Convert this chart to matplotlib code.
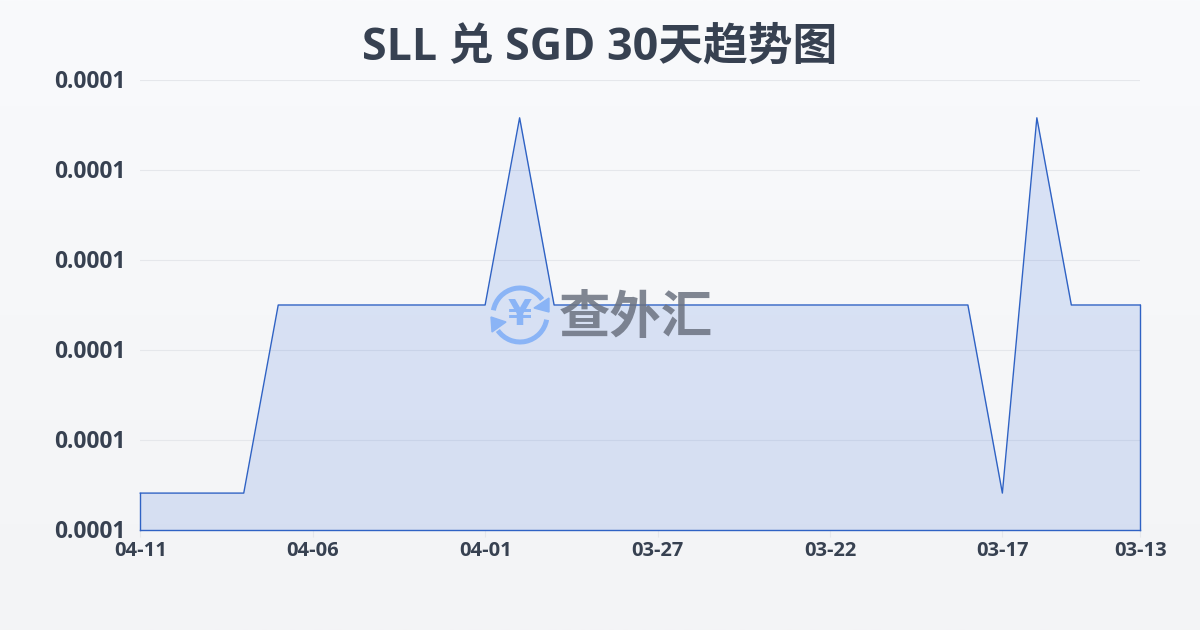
import numpy as np
import matplotlib
matplotlib.use('Agg')
import matplotlib.pyplot as plt
from matplotlib.patches import Arc, Polygon
from matplotlib.transforms import ScaledTranslation

plt.rcParams['font.family'] = ['Open Sans', 'Noto Sans CJK SC', 'DejaVu Sans']

dates = ['04-11', '04-10', '04-09', '04-08', '04-07', '04-06', '04-05', '04-04', '04-03', '04-02',
         '04-01', '03-31', '03-30', '03-29', '03-28', '03-27', '03-26', '03-25', '03-24', '03-23',
         '03-22', '03-21', '03-20', '03-19', '03-18', '03-17', '03-16', '03-15', '03-14', '03-13']
low = 0.0000641
mid = 0.0000850
high = 0.0001058
rates = [low, low, low, low, mid, mid, mid, mid, mid, mid,
         mid, high, mid, mid, mid, mid, mid, mid, mid, mid,
         mid, mid, mid, mid, mid, low, high, mid, mid, mid]
y_ticks = [0.00006, 0.00007, 0.00008, 0.00009, 0.0001, 0.00011]
title = 'SLL 兑 SGD 30天趋势图'

text_color = '#374151'
line_color = '#2f62c4'

fig = plt.figure(figsize=(12, 6.3), dpi=100)

# page background
bg = fig.add_axes([0, 0, 1, 1], zorder=0)
bg.imshow(np.linspace(0, 1, 256).reshape(-1, 1), aspect='auto', extent=[0, 1200, 630, 0],
          cmap=matplotlib.colors.LinearSegmentedColormap.from_list('bg', ['#f9fafc', '#f3f4f6']))
bg.axis('off')

ax = fig.add_axes([140.3 / 1200, 1 - 530 / 630, 1000 / 1200, 450 / 630], zorder=1)
ax.patch.set_alpha(0)
x = np.arange(len(dates))
ax.fill_between(x, rates, y_ticks[0], color='#3b6fdc', alpha=0.16, linewidth=0, zorder=2)
ax.plot(x, rates, color=line_color, linewidth=1, zorder=3, clip_on=False)
# outline closes down the sides and along the base
ax.plot([0, 0], [y_ticks[0], rates[0]], color=line_color, linewidth=1, zorder=3, clip_on=False)
ax.plot([x[-1], x[-1]], [y_ticks[0], rates[-1]], color=line_color, linewidth=1, zorder=3, clip_on=False)
ax.plot([0, x[-1]], [y_ticks[0], y_ticks[0]], color=line_color, linewidth=1, zorder=3, clip_on=False)

ax.set_xlim(0, len(dates) - 1)
ax.set_ylim(y_ticks[0], y_ticks[-1])
ax.set_yticks(y_ticks)
ax.set_yticklabels(['%.4f' % v for v in y_ticks], fontsize=16.4, fontweight='bold', color=text_color)
ax.set_xticks(x[::5].tolist() + [x[-1]])
ax.set_xticklabels([dates[i] for i in x[::5]] + [dates[-1]], fontsize=14.5, fontweight='bold', color=text_color)
ax.grid(axis='y', color='#e5e7eb', linewidth=0.8, zorder=1)
ax.tick_params(axis='y', length=0, pad=11)
ax.tick_params(axis='x', length=5, color='#e5e7eb', pad=3)
for s in ax.spines.values():
    s.set_visible(False)

# y labels sit slightly above their gridlines in the reference
up = ScaledTranslation(0, 1 / 72, fig.dpi_scale_trans)
for lbl in ax.get_yticklabels():
    lbl.set_transform(lbl.get_transform() + up)

fig.text(0.5, 1 - 48 / 630, title, ha='center', va='center', fontsize=32.2, fontweight='bold', color=text_color)

# watermark drawn in pixel coordinates
wm = fig.add_axes([0, 0, 1, 1], zorder=5)
wm.set_xlim(0, 1200)
wm.set_ylim(630, 0)
wm.axis('off')
wm.patch.set_alpha(0)
logo_blue = '#8ab4f6'
cx, cy = 520, 315
wm.add_patch(Arc((cx, cy), 54, 54, theta1=190, theta2=325, color=logo_blue, linewidth=3.6))
wm.add_patch(Arc((cx, cy), 54, 54, theta1=10, theta2=145, color=logo_blue, linewidth=3.6))
wm.add_patch(Polygon([[549, 298], [549, 312], [534, 308]], color=logo_blue))
wm.add_patch(Polygon([[491, 317], [506, 322], [492, 332]], color=logo_blue))
wm.text(cx, cy, '¥', ha='center', va='center', fontsize=25, fontweight='bold', color=logo_blue,
        family=['DejaVu Sans'])
wm.text(636, 317, '查外汇', ha='center', va='center', fontsize=37, fontweight='bold',
        family=['Noto Sans CJK SC'], color='#6b7280', alpha=0.85)

fig.savefig('out.png', dpi=100)
